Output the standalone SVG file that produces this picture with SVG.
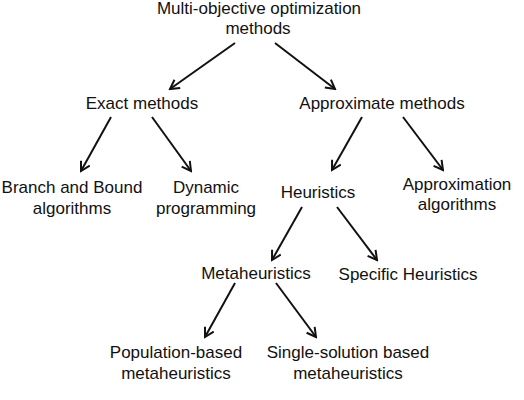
<svg xmlns="http://www.w3.org/2000/svg" width="524" height="400" viewBox="0 0 524 400">
<defs>
<marker id="ah" viewBox="0 0 12 12" refX="10" refY="6" markerWidth="12" markerHeight="12" markerUnits="userSpaceOnUse" orient="auto">
<path d="M1,1 L10,6 L1,11" fill="none" stroke="#111" stroke-width="2"/>
</marker>
</defs>
<style>
text{font-family:"Liberation Sans",Arial,sans-serif;font-size:17px;fill:#111;text-anchor:middle}
.c line{stroke:#111;stroke-width:2;marker-end:url(#ah)}
</style>
<rect width="524" height="400" fill="#fff"/>
<g id="root"><text x="259" y="14">Multi-objective optimization</text><text x="258" y="34">methods</text></g>
<g id="exact"><text x="142" y="109">Exact methods</text></g>
<g id="approx"><text x="382" y="109">Approximate methods</text></g>
<g id="bnb"><text x="72" y="193">Branch and Bound</text><text x="72" y="214">algorithms</text></g>
<g id="dp"><text x="206" y="193">Dynamic</text><text x="206" y="214">programming</text></g>
<g id="heur"><text x="318" y="198">Heuristics</text></g>
<g id="apalg"><text x="457" y="190">Approximation</text><text x="457" y="210">algorithms</text></g>
<g id="meta"><text x="256" y="279">Metaheuristics</text></g>
<g id="spec"><text x="408" y="280">Specific Heuristics</text></g>
<g id="pop"><text x="176" y="358">Population-based</text><text x="176" y="379">metaheuristics</text></g>
<g id="single"><text x="348" y="358">Single-solution based</text><text x="348" y="379">metaheuristics</text></g>
<g class="c" id="connectors">
<line x1="235" y1="43" x2="170" y2="89"/>
<line x1="275" y1="43" x2="335" y2="89"/>
<line x1="111" y1="117" x2="81" y2="171"/>
<line x1="152" y1="117" x2="191" y2="171"/>
<line x1="362" y1="117" x2="332" y2="170"/>
<line x1="403" y1="117" x2="443" y2="170"/>
<line x1="302" y1="207" x2="272" y2="260"/>
<line x1="337" y1="207" x2="377" y2="260"/>
<line x1="235" y1="283" x2="205" y2="337"/>
<line x1="276" y1="283" x2="316" y2="337"/>
</g>
</svg>
